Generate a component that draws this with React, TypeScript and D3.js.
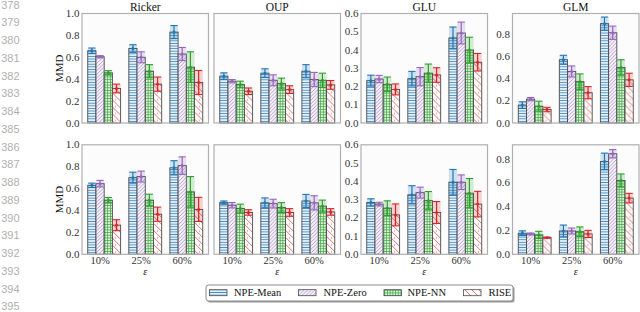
import React from "react";
import * as d3 from "d3";

const groups = ["10%", "25%", "60%"];
const methods = ["NPE-Mean", "NPE-Zero", "NPE-NN", "RISE"];
const titles = ["Ricker", "OUP", "GLU", "GLM"];
const colors = ["#1f77b4", "#9467bd", "#2ca02c", "#d62728"];

// mean[method][group], err[method][group]
const rickerTopMean = [[0.66, 0.68, 0.83], [0.605, 0.6, 0.63], [0.458, 0.473, 0.51], [0.315, 0.355, 0.37]];
const rickerTopErr = [[0.025, 0.035, 0.06], [0.01, 0.05, 0.06], [0.02, 0.06, 0.14], [0.04, 0.065, 0.11]];
const oupTopMean = [[0.428, 0.455, 0.473], [0.382, 0.39, 0.397], [0.352, 0.36, 0.39], [0.29, 0.305, 0.348]];
const oupTopErr = [[0.03, 0.04, 0.06], [0.015, 0.05, 0.065], [0.03, 0.05, 0.065], [0.03, 0.035, 0.04]];
const gluTopMean = [[0.232, 0.243, 0.466], [0.241, 0.254, 0.493], [0.212, 0.273, 0.4], [0.184, 0.263, 0.333]];
const gluTopErr = [[0.03, 0.04, 0.06], [0.02, 0.05, 0.06], [0.04, 0.05, 0.07], [0.03, 0.04, 0.048]];
const glmTopMean = [[0.162, 0.572, 0.898], [0.216, 0.466, 0.816], [0.152, 0.374, 0.502], [0.122, 0.274, 0.39]];
const glmTopErr = [[0.03, 0.04, 0.06], [0.015, 0.05, 0.06], [0.045, 0.07, 0.07], [0.02, 0.055, 0.06]];

const rickerBotMean = [[0.63, 0.7, 0.79], [0.645, 0.71, 0.81], [0.494, 0.494, 0.57], [0.266, 0.366, 0.41]];
const rickerBotErr = [[0.02, 0.05, 0.065], [0.03, 0.05, 0.08], [0.025, 0.055, 0.14], [0.05, 0.065, 0.11]];
const oupBotMean = [[0.472, 0.47, 0.487], [0.448, 0.463, 0.47], [0.418, 0.427, 0.44], [0.382, 0.382, 0.387]];
const oupBotErr = [[0.015, 0.045, 0.06], [0.025, 0.04, 0.065], [0.04, 0.045, 0.055], [0.025, 0.035, 0.03]];
const gluBotMean = [[0.284, 0.326, 0.395], [0.275, 0.338, 0.395], [0.253, 0.294, 0.335], [0.216, 0.229, 0.275]];
const gluBotErr = [[0.02, 0.05, 0.07], [0.01, 0.03, 0.04], [0.04, 0.05, 0.08], [0.06, 0.06, 0.07]];
const glmBotMean = [[0.177, 0.196, 0.78], [0.171, 0.196, 0.845], [0.163, 0.19, 0.62], [0.14, 0.171, 0.472]];
const glmBotErr = [[0.02, 0.05, 0.07], [0.008, 0.025, 0.035], [0.03, 0.04, 0.055], [0.005, 0.03, 0.04]];

const yMax = [[1, 1, 0.6, 0.99], [1, 1, 0.6, 0.92]];
const yTicks = [[0, 0.2, 0.4, 0.6, 0.8, 1.0], [0, 0.2, 0.4, 0.6, 0.8, 1.0], [0, 0.1, 0.2, 0.3, 0.4, 0.5, 0.6], [0, 0.2, 0.4, 0.6, 0.8]];
const lineNumbers = d3.range(378, 396);

const data = [
  [[rickerTopMean, rickerTopErr], [oupTopMean, oupTopErr], [gluTopMean, gluTopErr], [glmTopMean, glmTopErr]],
  [[rickerBotMean, rickerBotErr], [oupBotMean, oupBotErr], [gluBotMean, gluBotErr], [glmBotMean, glmBotErr]],
];

const colX = [82, 214, 361, 512.5];
const rowY = [13.5, 144.8];
const W = 126.5;
const H = 109.5;
const font = "Liberation Serif, Times New Roman, serif";
const hatchIds = ["hMean", "hZero", "hNN", "hRise"];

const Patterns = () => (
  <defs>
    <pattern id="hMean" patternUnits="userSpaceOnUse" width="4" height="2.6">
      <rect width="4" height="2.6" fill="#e3eef7" />
      <line x1="0" y1="1.3" x2="4" y2="1.3" stroke="#4a8fc4" strokeWidth="0.9" />
    </pattern>
    <pattern id="hZero" patternUnits="userSpaceOnUse" width="3.6" height="3.6">
      <rect width="3.6" height="3.6" fill="#f7f3fb" />
      <path d="M0,3.6 L3.6,0 M-0.9,0.9 L0.9,-0.9 M2.7,4.5 L4.5,2.7" stroke="#a688cc" strokeWidth="0.8" />
    </pattern>
    <pattern id="hNN" patternUnits="userSpaceOnUse" width="2.7" height="2.7">
      <rect width="2.7" height="2.7" fill="#e4f3e4" />
      <path d="M0,1.35 L2.7,1.35 M1.35,0 L1.35,2.7" stroke="#3aa63a" strokeWidth="0.75" />
    </pattern>
    <pattern id="hRise" patternUnits="userSpaceOnUse" width="7" height="7">
      <rect width="7" height="7" fill="#ffffff" />
      <path d="M0,0 L7,7 M-1,6 L1,8 M6,-1 L8,1" stroke="#e04848" strokeWidth="0.8" />
      <circle cx="5.5" cy="2" r="0.6" fill="#e04848" />
    </pattern>
  </defs>
);

const Panel = ({ row, col }) => {
  const [mean, err] = data[row][col];
  const x0 = colX[col];
  const y0 = rowY[row];
  const xs = d3.scaleLinear().domain([-0.44, 2.64]).range([0, W]);
  const ys = d3.scaleLinear().domain([0, yMax[row][col]]).range([H, 0]);
  const bw = xs(0.2) - xs(0);
  const showY = col !== 1;
  return (
    <g transform={`translate(${x0},${y0})`}>
      <rect width={W} height={H} fill="#fcfcfc" />
      {methods.map((m, k) =>
        groups.map((g, i) => {
          const c = xs(i + (k - 1) * 0.2);
          const v = mean[k][i];
          const e = err[k][i];
          return (
            <g key={m + g}>
              <rect x={c - bw / 2} y={ys(v)} width={bw} height={H - ys(v)} fill={`url(#${hatchIds[k]})`} stroke="#4a4a4a" strokeWidth="0.9" />
              <rect x={c - bw / 2} y={ys(v + e)} width={bw} height={ys(v - e) - ys(v + e)} fill={colors[k]} opacity="0.2" />
              <line x1={c} x2={c} y1={ys(v + e)} y2={ys(v - e)} stroke={colors[k]} strokeWidth="1.2" />
              <line x1={c - bw / 2 + 0.5} x2={c + bw / 2 - 0.5} y1={ys(v + e)} y2={ys(v + e)} stroke={colors[k]} strokeWidth="1.1" />
              <line x1={c - bw / 2 + 0.5} x2={c + bw / 2 - 0.5} y1={ys(v - e)} y2={ys(v - e)} stroke={colors[k]} strokeWidth="1.1" />
              <circle cx={c} cy={ys(v)} r="1.5" fill={colors[k]} />
            </g>
          );
        })
      )}
      <rect width={W} height={H} fill="none" stroke="#b0b0b0" strokeWidth="1.2" />
      {showY &&
        yTicks[col].map((t) => (
          <text key={t} x={-2.5} y={ys(t) + 3.6} textAnchor="end" fontSize="11" fontFamily={font} fill="#333">
            {t.toFixed(1)}
          </text>
        ))}
      {row === 0 && (
        <text x={W / 2} y={-3} textAnchor="middle" fontSize="11.5" fontFamily={font} fill="#111">
          {titles[col]}
        </text>
      )}
      {row === 1 &&
        groups.map((g, i) => (
          <text key={g} x={xs(i)} y={H + 9.5} textAnchor="middle" fontSize="10.5" fontFamily={font} fill="#333">
            {g}
          </text>
        ))}
      {row === 1 && (
        <text x={W / 2} y={H + 21} textAnchor="middle" fontSize="10" fontStyle="italic" fontFamily={font} fill="#111">
          ε
        </text>
      )}
      {col === 0 && (
        <text transform={`translate(-19,${H / 2}) rotate(-90)`} textAnchor="middle" fontSize="11" fontFamily={font} fill="#111">
          MMD
        </text>
      )}
    </g>
  );
};

const legendPatchX = [209.5, 298.5, 384, 463.5];
const legendTextX = [234, 323.5, 407.5, 488.5];

export default function App() {
  return (
    <svg width={640} height={312} style={{ position: "absolute", left: 0, top: 0, background: "#fff" }}>
      <Patterns />
      {lineNumbers.map((n, i) => (
        <text key={n} x={19.5} y={8.7 + i * 17.74} textAnchor="end" fontSize="11" fontFamily="Liberation Sans, Arial, sans-serif" fill="#b0b0b0">
          {n}
        </text>
      ))}
      {[0, 1].map((r) => [0, 1, 2, 3].map((c) => <Panel key={`${r}-${c}`} row={r} col={c} />))}
      <rect x={207.5} y={286.5} width={307} height={16} rx={2.5} fill="#9a9a9a" />
      <rect x={206} y={285} width={307} height={16} rx={2.5} fill="#fff" stroke="#8a8a8a" strokeWidth="1" />
      {methods.map((m, k) => (
        <g key={m}>
          <rect x={legendPatchX[k]} y={289.7} width={17.5} height={6} fill={`url(#${hatchIds[k]})`} stroke="#4a4a4a" strokeWidth="0.8" />
          <text x={legendTextX[k]} y={296.3} fontSize="10.5" fontFamily={font} fill="#111">
            {m}
          </text>
        </g>
      ))}
    </svg>
  );
}
